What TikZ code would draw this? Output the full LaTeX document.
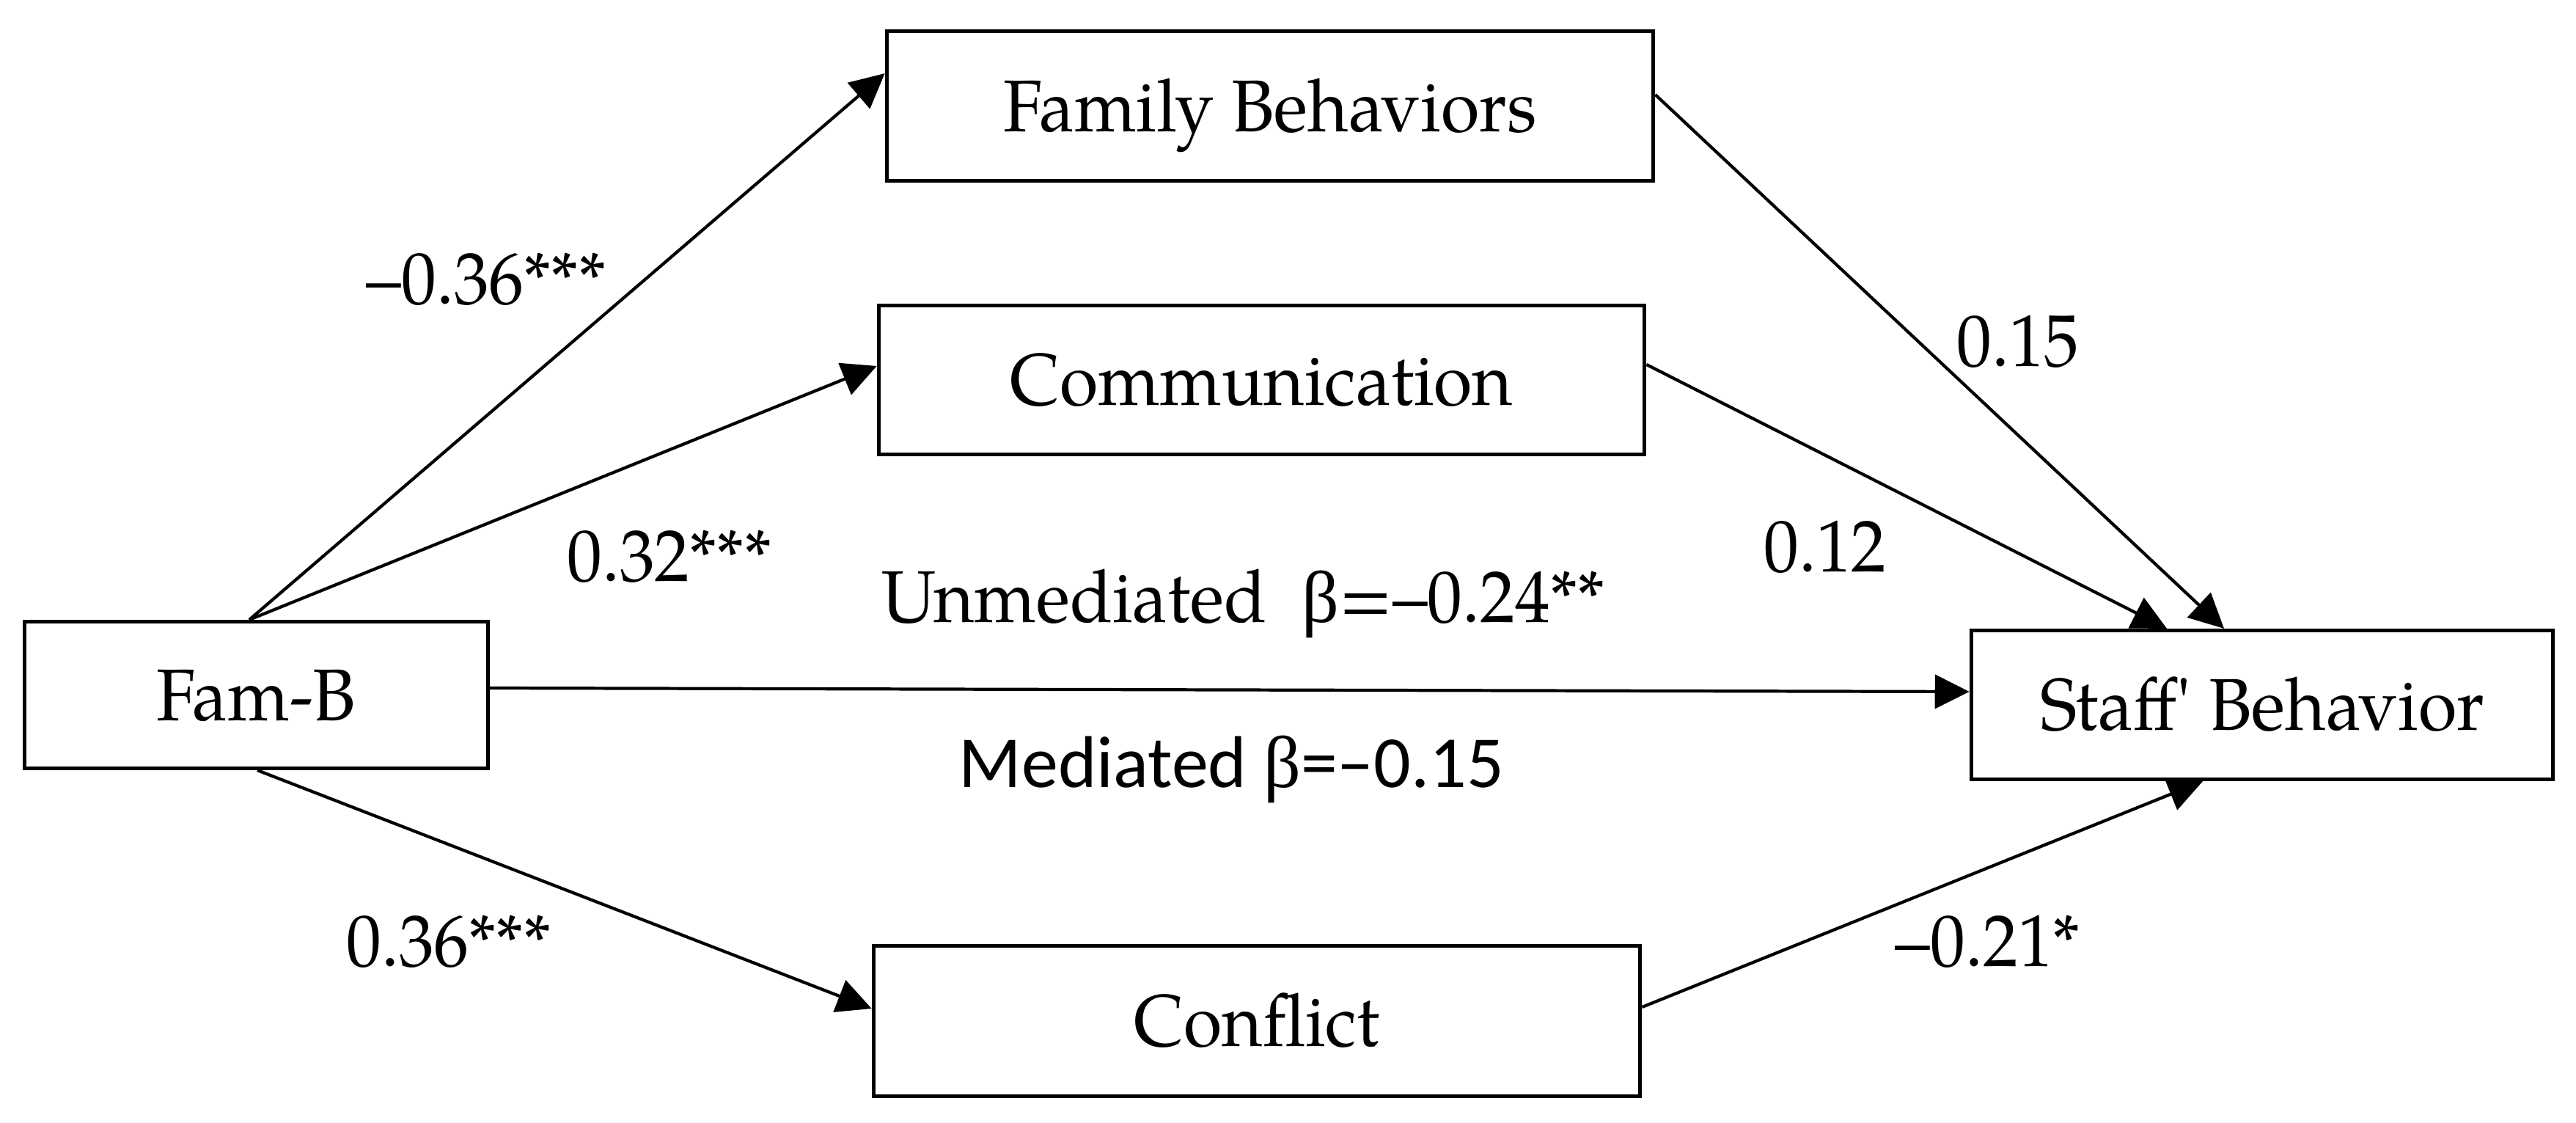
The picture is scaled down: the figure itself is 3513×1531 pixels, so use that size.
\documentclass[tikz,border=0pt]{standalone}
\usepackage{fontspec}
\setmainfont{TeX Gyre Pagella}[FakeStretch=0.955]
\newfontfamily\palstr{TeX Gyre Pagella}[FakeStretch=0.955,Ligatures=TeXOff]
\newfontfamily\sansf{Carlito}
\newfontfamily\grk{Liberation Serif}
\usetikzlibrary{arrows.meta,calc}
\begin{document}
\begin{tikzpicture}[x=0.01cm,y=-0.01cm,
  txt/.style={font=\fontsize{28.45pt}{34pt}\selectfont},
  box/.style={txt,draw,line width=1.45pt,inner sep=0pt,text height=0.69cm,text depth=0pt},
  lbl/.style={txt,anchor=base,inner sep=0pt},
  arr/.style={line width=1.2pt,-{Triangle[length=0.47cm,width=0.46cm]}}]
\useasboundingbox (0,0) rectangle (3513,1531);
\node[box,minimum width=10.45cm,minimum height=2.04cm] (fb) at (1732,144.5) {Family Behaviors};
\node[box,minimum width=10.44cm,minimum height=2.03cm] (comm) at (1720.5,518) {Communication};
\node[box,minimum width=6.32cm,minimum height=2.00cm] (famb) at (349.5,947.5) {Fam-B};
\node[box,minimum width=7.93cm,minimum height=2.03cm] (staff) at (3085,961) {Staff{\palstr '} Behavior};
\node[box,minimum width=10.45cm,minimum height=2.05cm] (confl) at (1714,1392) {Conflict};
\draw[arr] ($(famb.north)+(-9.5,0)$) -- ($(fb.west)+(0,-44.5)$);
\draw[arr] ($(famb.north)+(-9.5,0)$) -- ($(comm.west)+(0,-19)$);
\draw[arr] ($(famb.east)+(0,-9.5)$) -- ($(staff.west)+(0,-18)$);
\draw[arr] ($(famb.south)+(1.5,0)$) -- ($(confl.west)+(0,-17)$);
\draw[arr] ($(fb.east)+(0,-15.5)$) -- ($(staff.north)+(-52,0)$);
\draw[arr] ($(comm.east)+(0,-21)$) -- ($(staff.north)+(-130,0)$);
\draw[arr] ($(confl.east)+(0,-19)$) -- ($(staff.south)+(-81,0)$);
\node[lbl] (l1) at (663,415) {–0.36***};
\node[lbl] (l2) at (913,792) {0.32***};
\node[lbl] (l3) at (612,1317) {0.36***};
\node[lbl] (l4) at (2752,500) {0.15};
\node[lbl] (l5) at (2489,779) {0.12};
\node[lbl] (l6) at (2711,1317) {–0.21*};
\node[lbl] (l7) at (1695.5,848) {Unmediated\ \ {\grk β}=–0.24**};
\node[lbl,font=\sansf\fontsize{28.45pt}{34pt}\selectfont] (l8) at (1679.5,1073) {Mediated {\grk β}=–0.15};
\end{tikzpicture}
\end{document}
